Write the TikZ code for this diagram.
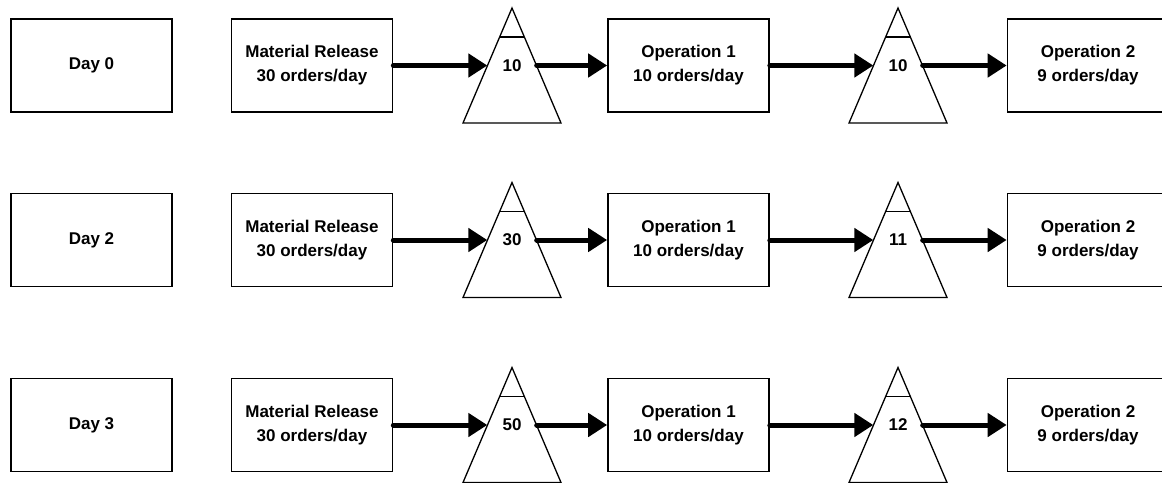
\documentclass[tikz,border=0pt]{standalone}
\usepackage{fontspec}
\setmainfont{Liberation Sans}
\usetikzlibrary{arrows.meta}

\begin{document}
\begin{tikzpicture}[x=1pt,y=-1pt,
  stagebox/.style={draw, line width=1.7pt, minimum width=161pt, minimum height=93pt,
    inner sep=0pt, align=center, font=\fontsize{17}{24}\selectfont\bfseries},
  stock/.style={inner sep=0pt, minimum width=49pt, minimum height=18pt,
    font=\fontsize{17}{20}\selectfont\bfseries},
  stockshape/.style={draw, line width=1.3pt, line join=miter},
  flow/.style={line width=5pt, line cap=round,
    -{Triangle[length=19pt,width=23pt]}}]

\useasboundingbox (0,0) rectangle (1162,482);

\foreach \r/\y/\d/\qa/\qb in {1/65.5/0/10/10, 2/240/2/30/11, 3/425/3/50/12}{
  % stations of one day
  \node[stagebox] (day\r) at (91.5,\y) {Day \d};
  \node[stagebox] (mr\r)  at (312,\y)  {Material Release\\30 orders/day};
  \node[stagebox] (opa\r) at (688.5,\y) {Operation 1\\10 orders/day};
  \node[stagebox] (opb\r) at (1088,\y) {Operation 2\\9 orders/day};

  % inventory triangles: the label node spans the triangle's width at flow height
  \node[stock] (qa\r) at (512,\y) {\qa};
  \node[stock] (qb\r) at (898,\y) {\qb};
  \foreach \q in {qa\r,qb\r}{
    \draw[stockshape] ([yshift=57.5pt]\q.center) -- ([shift={(49pt,-57.5pt)}]\q.center)
      -- ([shift={(-49pt,-57.5pt)}]\q.center) -- cycle;
    \draw[stockshape] ([shift={(-12.4pt,28.5pt)}]\q.center) -- ([shift={(12.4pt,28.5pt)}]\q.center);
  }

  % material flow
  \draw[flow] (mr\r.east) -- (qa\r.west);
  \draw[flow] (qa\r.east) -- (opa\r.west);
  \draw[flow] (opa\r.east) -- (qb\r.west);
  \draw[flow] (qb\r.east) -- (opb\r.west);
}
\end{tikzpicture}
\end{document}
